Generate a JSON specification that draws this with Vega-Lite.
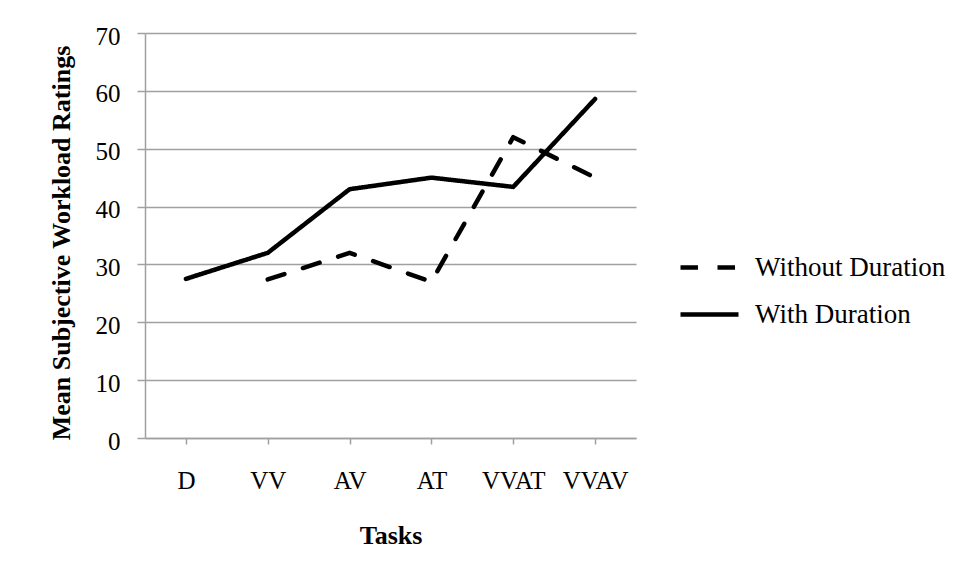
{
  "$schema": "https://vega.github.io/schema/vega-lite/v6.json",
  "width": 491,
  "height": 405,
  "autosize": {"type": "none"},
  "padding": {"left": 145, "top": 33, "right": 321, "bottom": 139},
  "background": "white",
  "config": {"view": {"stroke": null}, "font": "Liberation Serif"},
  "data": {
    "values": [
      {"task": "D", "series": "With Duration", "rating": 27.5},
      {"task": "VV", "series": "With Duration", "rating": 32},
      {"task": "AV", "series": "With Duration", "rating": 43},
      {"task": "AT", "series": "With Duration", "rating": 45},
      {"task": "VVAT", "series": "With Duration", "rating": 43.4},
      {"task": "VVAV", "series": "With Duration", "rating": 58.6},
      {"task": "VV", "series": "Without Duration", "rating": 27.4},
      {"task": "AV", "series": "Without Duration", "rating": 32},
      {"task": "AT", "series": "Without Duration", "rating": 27},
      {"task": "VVAT", "series": "Without Duration", "rating": 52},
      {"task": "VVAV", "series": "Without Duration", "rating": 45}
    ]
  },
  "mark": {"type": "line", "color": "black", "strokeWidth": 4.5, "strokeCap": "round", "strokeJoin": "round"},
  "encoding": {
    "x": {
      "field": "task",
      "type": "ordinal",
      "sort": ["D", "VV", "AV", "AT", "VVAT", "VVAV"],
      "scale": {"type": "point", "padding": 0.5},
      "axis": {
        "labelAngle": 0,
        "grid": false,
        "domainColor": "#a0a0a0",
        "domainWidth": 1.5,
        "tickColor": "#a0a0a0",
        "tickWidth": 1.5,
        "tickSize": 6,
        "labelFont": "Liberation Serif",
        "labelFontSize": 25,
        "labelColor": "black",
        "labelBaseline": "alphabetic",
        "labelPadding": 44,
        "title": "Tasks",
        "titleFont": "Liberation Serif",
        "titleFontSize": 26,
        "titleFontWeight": "bold",
        "titleColor": "black",
        "titleBaseline": "alphabetic",
        "titleY": 105
      }
    },
    "y": {
      "field": "rating",
      "type": "quantitative",
      "scale": {"domain": [0, 70], "nice": false},
      "axis": {
        "values": [0, 10, 20, 30, 40, 50, 60, 70],
        "grid": true,
        "gridColor": "#a0a0a0",
        "gridWidth": 1.5,
        "domainColor": "#a0a0a0",
        "domainWidth": 1.5,
        "tickColor": "#a0a0a0",
        "tickWidth": 1.5,
        "tickSize": 8,
        "labelFont": "Liberation Serif",
        "labelFontSize": 25,
        "labelColor": "black",
        "labelPadding": 17,
        "labelOffset": 3,
        "title": "Mean Subjective Workload Ratings",
        "titleFont": "Liberation Serif",
        "titleFontSize": 26,
        "titleFontWeight": "bold",
        "titleColor": "black",
        "titleAngle": -90,
        "titleAlign": "center",
        "titleBaseline": "middle",
        "titleX": -84,
        "titleY": 209.5
      }
    },
    "strokeDash": {
      "field": "series",
      "type": "nominal",
      "scale": {"domain": ["Without Duration", "With Duration"], "range": [[17.5, 19.5], [1, 0]]},
      "legend": {
        "title": null,
        "orient": "none",
        "legendX": 533,
        "legendY": 203,
        "padding": 0,
        "symbolType": "stroke",
        "symbolSize": 3364,
        "symbolStrokeWidth": 4.5,
        "symbolStrokeColor": "black",
        "labelFont": "Liberation Serif",
        "labelFontSize": 27,
        "labelColor": "black",
        "labelLimit": 400,
        "labelOffset": 14
      }
    }
  }
}
